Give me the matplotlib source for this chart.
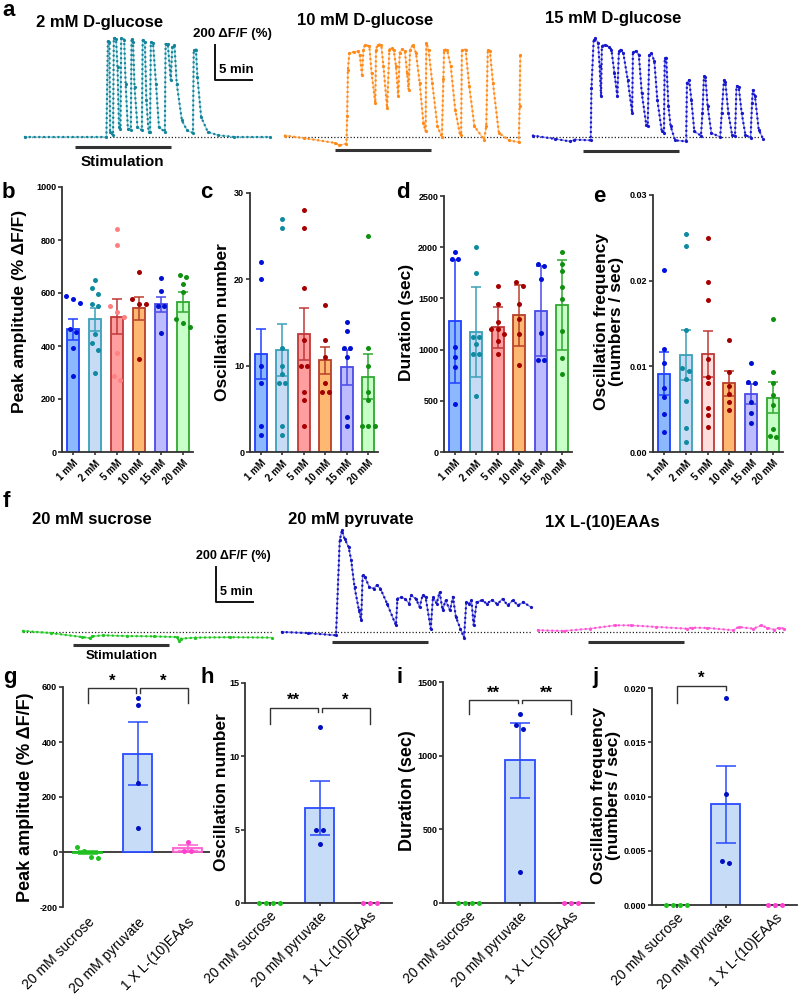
import numpy as np
import matplotlib.pyplot as plt

plt.rcParams['font.family'] = ['Liberation Sans', 'DejaVu Sans']
plt.rcParams['font.weight'] = 'bold'
plt.rcParams['axes.labelweight'] = 'bold'

# ---------------- data ----------------
# calcium traces, (time in min, dF/F in %)
trace_glc2 = [(0, 0), (11.0, 0), (11.2, 549), (11.4, 543), (11.5, 29), (11.9, 10), (12.0, 568), (12.3, 562),
              (12.5, 400), (12.7, 57), (12.9, 48), (13.0, 568), (13.4, 556), (13.6, 305), (13.9, 48), (14.3, 42),
              (14.4, 562), (14.6, 543), (14.8, 286), (15.2, 57), (15.8, 38), (15.9, 556), (16.2, 543), (16.4, 210),
              (16.7, 29), (16.9, 29), (17.0, 543), (17.3, 537), (17.7, 305), (18.1, 57), (18.9, 29), (19.0, 533),
              (19.3, 530), (19.7, 324), (19.9, 514), (20.2, 524), (20.5, 305), (21.2, 95), (21.9, 38), (22.7, 23),
              (22.8, 495), (23.1, 499), (23.3, 343), (23.8, 114), (24.7, 29), (26.1, 10), (28.3, 0), (33.1, 0)]
trace_glc10 = [(0, 8), (2.5, -6), (6.8, -34), (7.3, -48), (8.3, -38), (8.4, 118), (8.5, 385), (8.7, 480),
               (9.3, 486), (9.8, 490), (10.1, 470), (10.4, 356), (10.6, 499), (10.8, 528), (11.4, 518), (11.7, 366),
               (12.2, 194), (12.3, 499), (12.5, 528), (13.0, 528), (13.3, 404), (13.8, 166), (14.1, 499), (14.4, 509),
               (14.7, 495), (15.0, 404), (15.3, 232), (15.5, 480), (15.8, 503), (16.2, 490), (16.5, 366), (16.7, 270),
               (16.9, 499), (17.3, 528), (17.7, 480), (18.2, 309), (18.7, 80), (19.0, 32), (19.1, 537), (19.4, 499),
               (19.9, 309), (20.6, 61), (21.2, 0), (21.4, 331), (21.5, 499), (21.9, 499), (22.4, 404), (23.0, 156),
               (23.6, 23), (23.8, 13), (23.9, 499), (24.4, 499), (24.9, 290), (25.6, 61), (26.9, -15), (27.2, 61),
               (27.4, 499), (27.7, 490), (28.1, 309), (28.9, 23), (30.3, -19), (31.6, -30), (31.7, 175), (31.8, 470)]
trace_glc15 = [(0, 8), (3.0, -11), (5.0, -25), (5.6, -15), (7.8, -19), (7.9, 280), (8.2, 556), (8.4, 566),
               (8.8, 537), (9.0, 404), (9.2, 232), (9.3, 518), (9.7, 528), (10.3, 514), (10.6, 499), (11.0, 366),
               (11.4, 232), (11.6, 490), (11.9, 499), (12.2, 480), (12.8, 328), (13.4, 137), (13.5, 484), (13.9, 490),
               (14.3, 470), (14.7, 251), (15.3, 70), (15.5, 61), (15.7, 470), (16.0, 480), (16.4, 432), (16.8, 213),
               (17.4, 32), (17.7, 23), (17.8, 452), (18.0, 452), (18.3, 175), (18.6, 61), (19.2, -19), (20.7, -25),
               (20.8, 309), (21.1, 328), (21.4, 213), (21.8, 32), (22.7, 8), (22.9, 137), (23.1, 347), (23.3, 343),
               (23.6, 175), (24.1, 23), (25.3, 0), (25.5, 137), (25.8, 324), (26.0, 312), (26.4, 137), (26.9, 13),
               (27.3, 4), (27.5, 293), (27.8, 286), (28.2, 137), (28.7, 13), (29.4, -6), (29.6, 194), (29.7, 270),
               (30.0, 232), (30.5, 42), (31.1, -11)]
trace_sucrose = [(0, 6), (3.8, -6), (8.0, -29), (9.0, -34), (9.3, -25), (10.8, -19), (14.0, -23), (17.7, -25),
                 (20.8, -29), (21.1, -51), (21.4, -38), (23.2, -32), (28.0, -30), (33.6, -32)]
trace_pyruvate = [(0, 0), (3.5, -6), (7.3, -19), (7.8, 524), (8.1, 581), (8.45, 533), (9.0, 486), (9.35, 410),
                  (9.8, 257), (10.4, 124), (10.7, 67), (10.9, 324), (11.2, 314), (11.8, 257), (12.4, 248),
                  (12.8, 267), (13.3, 248), (14.2, 162), (15.4, 38), (15.6, 190), (16.1, 200), (16.6, 190),
                  (17.2, 162), (17.4, 210), (18.1, 190), (18.6, 143), (19.0, 210), (19.4, 200), (20.1, 19),
                  (20.4, 200), (20.9, 162), (21.3, 229), (21.7, 124), (22.1, 181), (22.7, 124), (23.1, 200),
                  (23.5, 86), (24.1, 19), (24.6, -32), (24.9, 171), (25.3, 162), (25.6, 181), (25.9, 38),
                  (26.3, 171), (27.0, 181), (27.7, 162), (28.4, 185), (29.1, 158), (29.8, 190), (30.5, 152),
                  (31.2, 181), (31.9, 152), (32.6, 171), (33.6, 143)]
trace_eaa = [(0, 10), (3.5, 6), (7.0, 19), (10.4, 38), (12.5, 38), (16.0, 29), (20.1, 19), (20.8, 25),
             (22.9, 23), (26.4, 10), (27.1, 29), (29.1, 19), (30.2, 38), (30.9, 25), (31.9, 13), (32.6, 25),
             (33.3, 19)]
stim_window = (6.7, 19.7)

# glucose dose series (b-e)
conc_labels = ['1 mM', '2 mM', '5 mM', '10 mM', '15 mM', '20 mM']
amp_mean = [463, 500, 511, 542, 557, 567]
amp_sem = [40, 43, 66, 43, 28, 38]
amp_pts = [[588, 561, 576, 465, 454, 392, 287], [648, 618, 598, 552, 560, 445, 410, 385, 298],
           [840, 780, 552, 530, 510, 375, 270, 285], [680, 578, 558, 558, 352], [655, 609, 551, 551, 448],
           [662, 667, 634, 602, 500, 485, 470]]
num_mean = [11.3, 11.8, 13.7, 10.6, 9.8, 8.7]
num_sem = [2.9, 3.0, 3.0, 1.6, 2.0, 2.6]
num_pts = [[22, 20, 10, 8, 3, 2], [27, 26, 12, 10, 9, 8, 8, 3, 2], [28, 26, 19, 13, 10, 10, 7, 6, 3],
           [17, 13, 11, 8, 7, 7], [15, 14, 12, 12, 11, 4, 3], [25, 12, 10, 7, 6, 3, 3, 3]]
dur_mean = [1276, 1172, 1218, 1335, 1377, 1435]
dur_sem = [600, 435, 200, 300, 435, 440]
dur_pts = [[1950, 1880, 1880, 1030, 930, 830, 470], [2000, 1750, 1120, 1120, 1050, 960, 960, 550],
           [1620, 1450, 1270, 1200, 1200, 1150, 1080, 960], [1660, 1620, 1450, 1300, 1150, 850],
           [1840, 1820, 1690, 1160, 900, 900], [1950, 1840, 1770, 1610, 1490, 1180, 920, 760]]
frq_mean = [0.00914, 0.0113, 0.0114, 0.0080, 0.00677, 0.00634]
frq_sem = [0.0025, 0.0029, 0.0027, 0.0015, 0.0012, 0.0018]
frq_pts = [[0.0213, 0.0120, 0.0104, 0.0075, 0.0064, 0.0044, 0.0023],
           [0.0255, 0.0240, 0.0142, 0.0098, 0.0094, 0.0085, 0.0060, 0.0028, 0.0012],
           [0.0250, 0.0198, 0.0178, 0.0108, 0.0088, 0.0080, 0.0051, 0.0043, 0.0029],
           [0.0131, 0.0093, 0.0077, 0.0068, 0.0058, 0.0049], [0.0104, 0.0080, 0.0082, 0.0058, 0.0045, 0.0034],
           [0.0155, 0.0093, 0.0080, 0.0066, 0.0055, 0.0027, 0.0018, 0.0019]]

# other nutrients (g-j)
nut_labels = ['20 mM sucrose', '20 mM pyruvate', '1 X L-(10)EAAs']
g_mean = [-2, 358, 14]
g_sem = [7, 115, 12]
g_pts = [[18, 2, -18, -20], [560, 535, 250, 88], [36, 3, 3]]
h_mean = [0, 6.5, 0]
h_sem = [0, 1.85, 0]
h_pts = [[0, 0, 0, 0], [12, 5, 5, 4], [0, 0, 0]]
i_mean = [0, 968, 0]
i_sem = [0, 252, 0]
i_pts = [[0, 0, 0, 0], [1282, 1206, 1181, 210], [0, 0, 0]]
j_mean = [0, 0.0093, 0]
j_sem = [0, 0.00355, 0]
j_pts = [[0, 0, 0, 0], [0.0191, 0.0102, 0.0041, 0.0039], [0, 0, 0]]

# ---------------- figure helpers ----------------
W, H = 800, 997
fig = plt.figure(figsize=(8, 9.97), dpi=100)


def px_axes(left, top, right, bottom):
    return fig.add_axes([left / W, 1 - bottom / H, (right - left) / W, (bottom - top) / H])


def ftext(x, y, s, **kw):
    fig.text(x / W, 1 - y / H, s, **kw)


PX_MIN = 37 / 5      # pixels per minute
PX_PCT = 35 / 200    # pixels per % dF/F


def trace_panel(x0, y0, left, right, top, bottom, data, color, light, stim_y):
    ax = px_axes(left, top, right, bottom)
    ax.set_xlim((left - x0) / PX_MIN, (right - x0) / PX_MIN)
    ax.set_ylim((y0 - bottom) / PX_PCT, (y0 - top) / PX_PCT)
    ax.axis('off')
    t, f = zip(*data)
    ax.plot([t[0], t[-1]], [0, 0], color='#222222', ls=(0, (1, 1.6)), lw=0.9, zorder=1)
    ax.plot(t, f, color=light, lw=1.0, zorder=2)
    ax.plot(t, f, color=color, ls=(0, (0.01, 1.9)), lw=1.8, dash_capstyle='round', zorder=3)
    ax.plot(t, f, 'o', color=color, ms=2.3, mec='none', zorder=3)
    ax.plot(stim_window, [stim_y, stim_y], color='#333333', lw=2.2, solid_capstyle='butt')
    return ax


def scale_bar(ax, t0, f0, size):
    ax.plot([t0, t0, t0 + 5], [f0 + 200, f0, f0], color='#111111', lw=1.4, clip_on=False)
    ax.text(t0 + 2.3, f0 + 230, '200 \u0394F/F (%)', fontsize=size, ha='center', va='bottom')
    ax.text(t0 + 0.5, f0 + 25, '5 min', fontsize=size, ha='left', va='bottom')


def spread(vals, tol, step):
    order = np.argsort(vals)[::-1]
    offs = np.zeros(len(vals))
    groups = []
    for i in order:
        if groups and abs(vals[groups[-1][-1]] - vals[i]) <= tol:
            groups[-1].append(i)
        else:
            groups.append([i])
    for g in groups:
        for k, i in enumerate(g):
            offs[i] = (k - (len(g) - 1) / 2) * step
    return offs


def bar_panel(ax, means, sems, pts, fills, edges, dots, ylim, ticks, ticklabels, xlabels,
              width, capsize, step, xsize, xweight, zero_line=False):
    x = np.arange(len(means))
    ax.bar(x, means, width=width, color=fills, edgecolor=edges, linewidth=1.3, zorder=2)
    tol = (ylim[1] - ylim[0]) * 0.025
    for i in x:
        if sems[i] > 0:
            ax.errorbar(i, means[i], yerr=sems[i], fmt='none', ecolor=edges[i], elinewidth=1.1,
                        capsize=capsize, capthick=1.1, zorder=3)
        offs = spread(pts[i], tol, step)
        ax.plot(i + offs, pts[i], 'o', color=dots[i], ms=3.6, mec='none', zorder=4, clip_on=False)
    ax.set_xlim(-0.5, len(means) - 0.55)
    ax.set_ylim(*ylim)
    ax.set_yticks(ticks)
    ax.set_yticklabels(ticklabels, fontsize=6.5, fontweight='bold')
    ax.set_xticks(x)
    ax.set_xticklabels(xlabels, rotation=45, ha='right', rotation_mode='anchor',
                       fontsize=xsize, fontweight=xweight)
    for s in ['top', 'right']:
        ax.spines[s].set_visible(False)
    for s in ['left', 'bottom']:
        ax.spines[s].set_linewidth(1.3)
        ax.spines[s].set_color('#333333')
    ax.tick_params(axis='y', width=1.2, length=3, pad=1.2, color='#333333')
    ax.tick_params(axis='x', width=1.2, length=2.5, pad=2, color='#333333')
    ax.patch.set_alpha(0)
    if zero_line:
        ax.spines['bottom'].set_visible(False)
        ax.axhline(0, color='#333333', lw=1.3, zorder=1)
        ax.tick_params(axis='x', length=0, pad=6)


def bracket(ax, x1, x2, top, y1, y2, label):
    ax.plot([x1, x1, x2, x2], [y1, top, top, y2], color='#333333', lw=1.0, clip_on=False)
    ax.text((x1 + x2) / 2, top, label, ha='center', va='bottom', fontsize=12, fontweight='bold')


# ---------------- panel a ----------------
a1 = trace_panel(25, 137, 20, 275, 25, 170, trace_glc2, '#13849a', '#8ccfdc', -57)
a2 = trace_panel(285, 137, 280, 527, 25, 170, trace_glc10, '#ff8a1a', '#ffc78f', -74)
a3 = trace_panel(533, 137, 528, 795, 25, 170, trace_glc15, '#1717cc', '#8c8cf0', -80)
scale_bar(a1, 25.7, 325, 9.5)
a1.text(13.2, -100, 'Stimulation', fontsize=11, ha='center', va='top')
ftext(100, 23, '2 mM D-glucose', fontsize=12, ha='center', va='center')
ftext(365, 20, '10 mM D-glucose', fontsize=12, ha='center', va='center')
ftext(613, 18, '15 mM D-glucose', fontsize=12, ha='center', va='center')

# ---------------- panels b-e ----------------
fills = ['#8cb8ff', '#c7dcf4', '#ff9e9e', '#ffb871', '#bcbcff', '#c8ffc8']
edges = ['#2040ff', '#3aa0b8', '#c03838', '#b8402a', '#4a4ae8', '#30a830']
dots = ['#0010e0', '#108aa0', '#a80000', '#a00000', '#0010d0', '#109010']
dots_b = dots[:2] + ['#ff8080'] + dots[3:]
fills_e = fills[:2] + ['#ffdede'] + fills[3:]

axb = px_axes(62, 187, 193, 452)
bar_panel(axb, amp_mean, amp_sem, amp_pts, fills, edges, dots_b, (0, 1000), range(0, 1001, 200),
          ['0', '200', '400', '600', '800', '1000'], conc_labels, 0.55, 3.5, 0.3, 7, 'bold')
axc = px_axes(250, 193, 378, 452)
bar_panel(axc, num_mean, num_sem, num_pts, fills, edges, dots, (0, 30), [0, 10, 20, 30],
          ['0', '10', '20', '30'], conc_labels, 0.55, 3.5, 0.3, 7, 'bold')
axd = px_axes(444, 196, 572, 452)
bar_panel(axd, dur_mean, dur_sem, dur_pts, fills, edges, dots, (0, 2500), range(0, 2501, 500),
          ['0', '500', '1000', '1500', '2000', '2500'], conc_labels, 0.55, 3.5, 0.3, 7, 'bold')
axe = px_axes(653, 195, 783, 452)
bar_panel(axe, frq_mean, frq_sem, frq_pts, fills_e, edges, dots, (0, 0.03), [0, 0.01, 0.02, 0.03],
          ['0.00', '0.01', '0.02', '0.03'], conc_labels, 0.55, 3.5, 0.3, 7, 'bold')

ftext(20, 311, 'Peak amplitude (% \u0394F/F)', fontsize=12.5, rotation=90, ha='center', va='center')
ftext(222, 322, 'Oscillation number', fontsize=12.5, rotation=90, ha='center', va='center')
ftext(407, 322, 'Duration (sec)', fontsize=12.5, rotation=90, ha='center', va='center')
ftext(609, 321, 'Oscillation frequency\n(numbers / sec)', fontsize=12.5, rotation=90,
      ha='center', va='center', linespacing=1.0)

# ---------------- panel f ----------------
f1 = trace_panel(23, 632, 18, 277, 520, 665, trace_sucrose, '#22c422', '#6ee06e', -74)
f2 = trace_panel(282, 632, 278, 535, 520, 665, trace_pyruvate, '#1515c0', '#7a7ae8', -57)
f3 = trace_panel(538, 632, 535, 795, 520, 665, trace_eaa, '#ff55d5', '#ff9ee6', -57)
scale_bar(f1, 26.1, 171, 9)
f1.text(13.4, -100, 'Stimulation', fontsize=9.5, ha='center', va='top')
ftext(92, 519, '20 mM sucrose', fontsize=12, ha='center', va='center')
ftext(351, 519, '20 mM pyruvate', fontsize=12, ha='center', va='center')
ftext(602, 523, '1X L-(10)EAAs', fontsize=12, ha='center', va='center')

# ---------------- panels g-j ----------------
n_fill = ['#c8ffc8', '#c7dcf6', '#ffd8f4']
n_edge = ['#20c020', '#2a4bff', '#ff60d0']
n_dot = ['#20c020', '#0010c0', '#ff40d0']

axg = px_axes(63, 687, 210, 907)
bar_panel(axg, g_mean, g_sem, g_pts, n_fill, n_edge, n_dot, (-200, 600), range(-200, 601, 200),
          ['-200', '0', '200', '400', '600'], nut_labels, 0.58, 7, 0.14, 10, 'normal', zero_line=True)
bracket(axg, 0, 0.96, 595, 541, 577, '*')
bracket(axg, 1.04, 2, 595, 577, 541, '*')

axh = px_axes(245, 683, 392, 903)
bar_panel(axh, h_mean, h_sem, h_pts, n_fill, n_edge, n_dot, (0, 15), [0, 5, 10, 15],
          ['0', '5', '10', '15'], nut_labels, 0.58, 7, 0.14, 10, 'normal')
bracket(axh, 0, 0.96, 13.3, 12.2, 13.0, '**')
bracket(axh, 1.04, 2, 13.3, 13.0, 12.2, '*')

axi = px_axes(443, 682, 594, 903)
bar_panel(axi, i_mean, i_sem, i_pts, n_fill, n_edge, n_dot, (0, 1500), [0, 500, 1000, 1500],
          ['0', '500', '1000', '1500'], nut_labels, 0.58, 7, 0.14, 10, 'normal')
bracket(axi, 0, 0.96, 1375, 1282, 1357, '**')
bracket(axi, 1.04, 2, 1375, 1357, 1282, '**')

axj = px_axes(652, 688, 797, 905)
bar_panel(axj, j_mean, j_sem, j_pts, n_fill, n_edge, n_dot, (0, 0.02), [0, 0.005, 0.01, 0.015, 0.02],
          ['0.000', '0.005', '0.010', '0.015', '0.020'], nut_labels, 0.58, 7, 0.14, 10, 'normal')
bracket(axj, 0, 1.0, 0.0202, 0.0186, 0.0198, '*')

ftext(26, 797, 'Peak amplitude (% \u0394F/F)', fontsize=13, rotation=90, ha='center', va='center')
ftext(221, 792, 'Oscillation number', fontsize=12.5, rotation=90, ha='center', va='center')
ftext(407, 791, 'Duration (sec)', fontsize=13, rotation=90, ha='center', va='center')
ftext(606, 795, 'Oscillation frequency\n(numbers / sec)', fontsize=12.5, rotation=90,
      ha='center', va='center', linespacing=1.0)

# ---------------- panel letters ----------------
for lab, x, y in [('a', 2, 11), ('b', 2, 192), ('c', 200, 193), ('d', 396, 192), ('e', 593, 196),
                  ('f', 3, 501), ('g', 3, 677), ('h', 200, 677), ('i', 396, 677), ('j', 592, 677)]:
    ftext(x, y, lab, fontsize=16, ha='left', va='center')

fig.savefig('out.png', dpi=100)
